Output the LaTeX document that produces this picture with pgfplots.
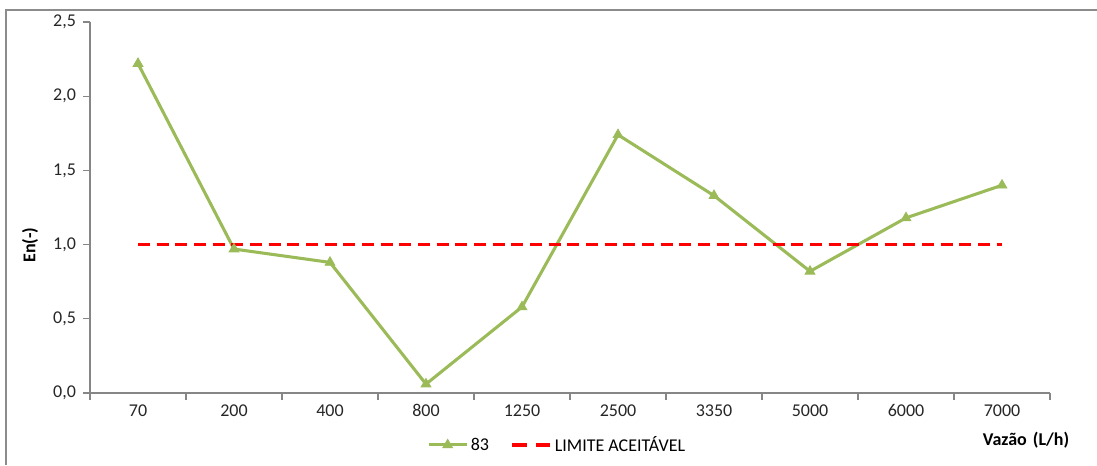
\documentclass[border=0pt]{standalone}
\usepackage{pgfplots}
\pgfplotsset{compat=1.18}
\usepackage{fontspec}
\setmainfont{Carlito}
\definecolor{axgray}{RGB}{134,134,134}
\definecolor{frgray}{RGB}{140,140,140}
\definecolor{lgreen}{RGB}{155,187,89}
\newcommand{\fs}{\fontsize{13.5pt}{15pt}\selectfont}
\begin{document}
\begin{tikzpicture}[x=0.75pt,y=0.75pt]
\useasboundingbox (-90,-72) rectangle (1007,393);
\draw[frgray,line width=1.1pt] (-84,-72) -- (-84,383) -- (1007,383);
\begin{axis}[
  at={(0,0)}, anchor=south west,
  scale only axis, width=720pt, height=278.25pt,
  xmin=0.5, xmax=10.5, ymin=0, ymax=2.5,
  axis x line*=bottom, axis y line*=left,
  axis line style={axgray, line width=0.8pt},
  xtick={0.5,1.5,...,10.5}, xticklabels={},
  extra x ticks={1,...,10},
  extra x tick labels={70,200,400,800,1250,2500,3350,5000,6000,7000},
  extra x tick style={major tick length=0pt, tick label style={yshift=-5pt}},
  ytick={0,0.5,1,1.5,2,2.5},
  yticklabel style={/pgf/number format/fixed, /pgf/number format/fixed zerofill, /pgf/number format/precision=1, /pgf/number format/use comma},
  /pgf/number format/assume math mode=true,
  tick style={axgray, line width=0.8pt},
  major tick length=5pt,
  tick align=outside,
  xticklabel style={font=\fs, text=black!85},
  yticklabel style={font=\fs, text=black!85, xshift=-2pt},
  legend style={at={(0.487,-0.14)}, anchor=center, draw=none, fill=none,
    legend columns=2, font=\fs,
    /tikz/every even column/.append style={column sep=14pt}},
  legend cell align=left,
  legend image code/.code={\draw[mark repeat=2,mark phase=2,#1] plot coordinates {(0cm,0cm) (0.5cm,0cm) (1cm,0cm)};},
  clip=false,
]
\addplot[lgreen, line width=2.3pt, mark=triangle*, mark size=4.3pt, mark options={solid, line width=0.5pt}]
 coordinates {(1,2.22) (2,0.97) (3,0.88) (4,0.06) (5,0.58) (6,1.74) (7,1.33) (8,0.82) (9,1.18) (10,1.40)};
\addlegendentry{83}
\addlegendimage{red, line width=2.8pt, dash pattern=on 11pt off 6.45pt}
\addlegendentry{LIMITE ACEITÁVEL}
\addplot[red, line width=2.8pt, dash pattern=on 9pt off 5pt, forget plot]
 coordinates {(1,1) (2,1) (3,1) (4,1) (5,1) (6,1) (7,1) (8,1) (9,1) (10,1)};
\end{axis}
\node[rotate=90, anchor=center, font=\fs\bfseries] at (-60,148) {En(-)};
\node[anchor=center, font=\fs\bfseries] at (936,-47) {Vazão\,\,(L/h)};
\end{tikzpicture}
\end{document}
